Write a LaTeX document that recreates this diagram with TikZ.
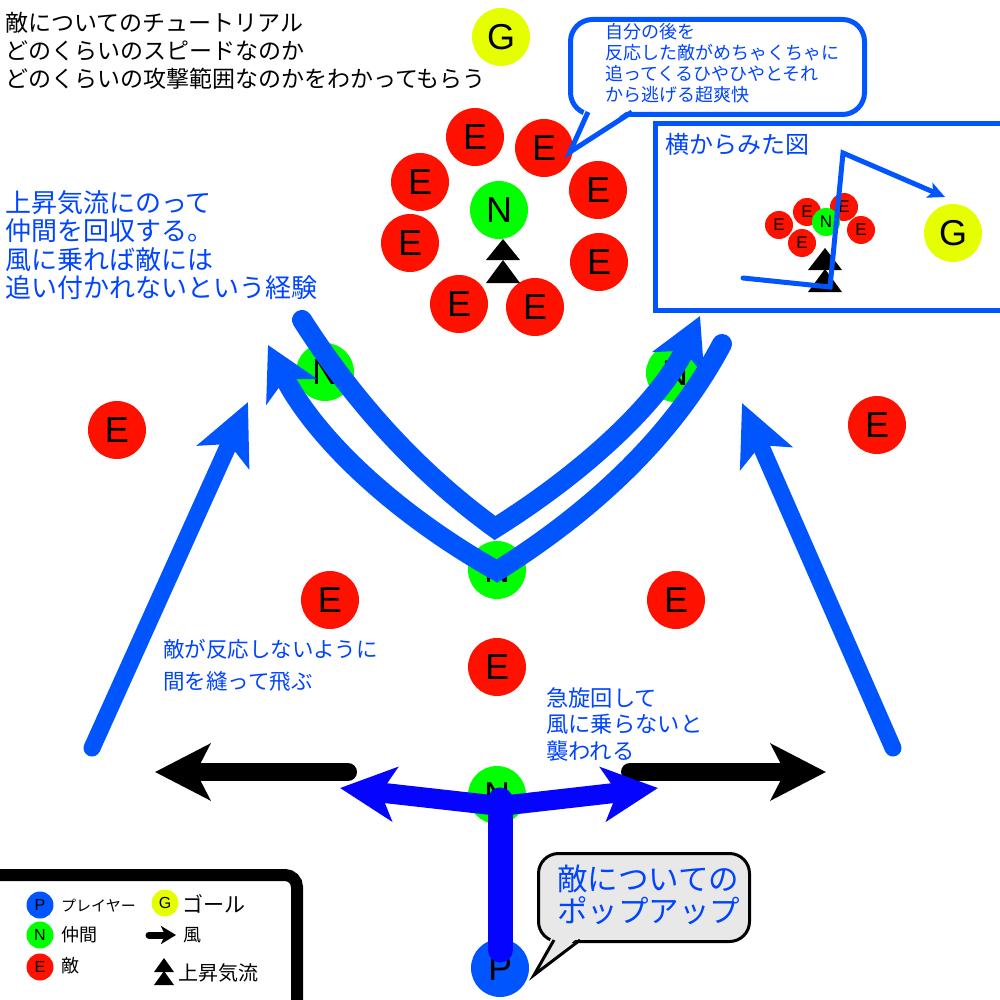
\documentclass[tikz,border=0pt]{standalone}
\usepackage{fontspec}
\usetikzlibrary{arrows.meta}
\newfontfamily\jpf{Noto Sans CJK JP}
\newfontfamily\latf{Liberation Sans}
\definecolor{ered}{RGB}{255,17,0}
\definecolor{ngreen}{RGB}{0,255,0}
\definecolor{gyellow}{RGB}{230,255,0}
\definecolor{pblue}{RGB}{0,85,255}
\definecolor{tblue}{RGB}{0,68,255}
\definecolor{yblue}{RGB}{5,5,255}
\definecolor{bubgray}{RGB}{232,232,232}
\begin{document}
\begin{tikzpicture}[x=1pt,y=-1pt,
  disc/.style={circle,inner sep=0pt,minimum size=58pt,font=\latf\fontsize{36}{36}\selectfont},
  enemy/.style={disc,fill=ered},
  ally/.style={disc,fill=ngreen},
  goal/.style={disc,fill=gyellow},
  player/.style={disc,fill=pblue},
  minidisc/.style={minimum size=28pt,font=\latf\fontsize{17}{17}\selectfont},
  legdisc/.style={minimum size=27pt,font=\latf\fontsize{16}{16}\selectfont},
  jtext/.style={inner sep=0pt,anchor=north west,align=left},
  bigarrow/.style={pblue,line width=20pt,line cap=round,line join=miter,
     -{Stealth[length=52pt,width=56pt,inset=14pt]}},
  diagarrow/.style={pblue,line width=17pt,line cap=round,
     -{Stealth[length=60pt,width=56pt,inset=14pt]}},
  windarrow/.style={black,line width=18pt,line cap=round,
     -{Stealth[length=55pt,width=56pt,inset=14pt]}},
  yarrow/.style={yblue,line width=20pt,line join=miter,
     {Stealth[length=55pt,width=54pt,inset=14pt]}-{Stealth[length=55pt,width=54pt,inset=14pt]}},
  updraft/.style={fill=black}
]
\useasboundingbox (0,0) rectangle (1000,1000);

% ---------- top-left text ----------
\node[jtext,font=\jpf\fontsize{23}{28}\selectfont] (title) at (5,12)
  {敵についてのチュートリアル\\どのくらいのスピードなのか\\どのくらいの攻撃範囲なのかをわかってもらう};

% ---------- goal ----------
\node[goal] (G) at (501,37) {G};

% ---------- top cluster ----------
\node[enemy] (e1) at (475,137) {E};
\node[enemy] (e2) at (544,148) {E};
\node[enemy] (e3) at (420,182) {E};
\node[enemy] (e4) at (598,190) {E};
\node[enemy] (e5) at (410,243) {E};
\node[enemy] (e6) at (599,262) {E};
\node[enemy] (e7) at (459,304) {E};
\node[enemy] (e8) at (535,307) {E};
\node[ally] (n0) at (499,210) {N};
\fill[updraft] (486,260) -- (503,239) -- (520,260) -- cycle;
\fill[updraft] (486,283) -- (503,260) -- (520,283) -- cycle;

% ---------- top speech bubble ----------
\node[draw=pblue,line width=5pt,fill=white,rounded corners=22pt,
      minimum width=294pt,minimum height=95pt,anchor=north west,inner sep=0pt] (bub1) at (568,17) {};
\coordinate (tail1) at (570,152);
\fill[white] (586,106) -- (634,106) -- (tail1) -- cycle;
\draw[pblue,line width=5pt,line join=miter] (588,112) -- (tail1) -- (632,112);
\node[jtext,text=tblue,font=\jpf\fontsize{18}{21}\selectfont] (bub1txt) at (605,23)
  {自分の後を\\反応した敵がめちゃくちゃに\\追ってくるひやひやとそれ\\から逃げる超爽快};

% ---------- side view ----------
\draw[pblue,line width=5pt] (655,124) rectangle (1012,310);
\node[jtext,text=tblue,font=\jpf\fontsize{24}{24}\selectfont] (sidetitle) at (665,133) {横からみた図};
\node[enemy,minidisc] (s1) at (779,225) {E};
\node[enemy,minidisc] (s2) at (807,212) {E};
\node[enemy,minidisc] (s3) at (844,207) {E};
\node[enemy,minidisc] (s4) at (861,230) {E};
\node[enemy,minidisc] (s5) at (802,243) {E};
\node[ally,minidisc] (sn) at (826,222) {N};
\node[goal] (sg) at (953,233) {G};
\fill[updraft] (808,270) -- (825,248) -- (842,270) -- cycle;
\fill[updraft] (808,292) -- (825,269) -- (842,292) -- cycle;
\coordinate (sp0) at (743,278);
\coordinate (sp1) at (830,287);
\coordinate (sp2) at (843,153);
\coordinate (sp3) at (945,197);
\draw[pblue,line width=5pt,line cap=round,line join=miter,
      -{Stealth[length=17pt,width=16pt,inset=4pt]}] (sp0) -- (sp1) -- (sp2) -- (sp3);

% ---------- left text ----------
\node[jtext,text=tblue,font=\jpf\fontsize{26}{28.5}\selectfont] (lefttxt) at (5,190)
  {上昇気流にのって\\仲間を回収する。\\風に乗れば敵には\\追い付かれないという経験};

% ---------- middle field ----------
\node[enemy] (e9) at (117,430) {E};
\node[enemy] (e10) at (877,425) {E};
\node[enemy] (e11) at (330,600) {E};
\node[enemy] (e12) at (676,600) {E};
\node[enemy] (e13) at (497,667) {E};
\node[ally] (n1) at (325,372) {N};
\node[ally] (n2) at (675,373) {N};
\node[ally] (n3) at (497,570) {N};
\node[ally] (n4) at (497,795) {N};
\node[player] (P) at (500,968) {P};

% ---------- V-shaped updraft arrows ----------
\coordinate (a0) at (302,320);
\coordinate (av) at (495,528);
\coordinate (a1) at (700,316);
\coordinate (b0) at (722,344);
\coordinate (bv) at (497,571);
\coordinate (b1) at (268,345);
\draw[bigarrow] (a0) .. controls (357,406) and (422,475) .. (av)
                     .. controls (597,464) and (665,393) .. (a1);
\draw[bigarrow] (b0) .. controls (677,429) and (602,505) .. (bv)
                     .. controls (389,510) and (313,434) .. (b1);

% ---------- diagonal arrows ----------
\coordinate (dl0) at (92,748);
\coordinate (dl1) at (248,402);
\coordinate (dr0) at (893,748);
\coordinate (dr1) at (742,403);
\draw[diagarrow] (dl0) -- (dl1);
\draw[diagarrow] (dr0) -- (dr1);

% ---------- middle texts ----------
\node[jtext,text=tblue,font=\jpf\fontsize{21.5}{32}\selectfont] (midtxt) at (163,639)
  {敵が反応しないように\\間を縫って飛ぶ};
\node[jtext,text=tblue,font=\jpf\fontsize{22.3}{26.5}\selectfont] (righttxt) at (546,687)
  {急旋回して\\風に乗らないと\\襲われる};

% ---------- wind arrows ----------
\coordinate (wl0) at (348,772);
\coordinate (wl1) at (155,772);
\coordinate (wr0) at (630,772);
\coordinate (wr1) at (826,772);
\draw[windarrow] (wl0) -- (wl1);
\draw[windarrow] (wr0) -- (wr1);

% ---------- player Y arrows ----------
\coordinate (ybase) at (500,950);
\coordinate (J) at (500,806);
\coordinate (yl) at (340,788);
\coordinate (yr) at (658,788);
\draw[yblue,line width=25pt,line cap=round] (ybase) -- ([yshift=6pt]J);
\draw[yarrow] (yl) -- (J) -- (yr);

% ---------- bottom bubble ----------
\node[draw=black,line width=3pt,fill=bubgray,rounded corners=20pt,
      minimum width=211pt,minimum height=88pt,anchor=north west,inner sep=0pt] (bub2) at (537,852) {};
\coordinate (tail2) at (534,975);
\fill[bubgray] (553,934) -- (582,934) -- (tail2) -- cycle;
\draw[black,line width=3pt,line join=miter] (554,940) -- (tail2) -- (580,940);
\node[jtext,text=tblue,font=\jpf\fontsize{30.5}{32}\selectfont] (bub2txt) at (557,865)
  {敵についての\\ポップアップ};

% ---------- legend ----------
\draw[black,line width=12pt,rounded corners=12pt] (-20,875) -- (297,875) -- (297,1020);
\node[player,legdisc] (lp) at (40,905) {P};
\node[ally,legdisc] (ln) at (40,935) {N};
\node[enemy,legdisc] (le) at (40,967) {E};
\node[goal,legdisc] (lg) at (165,903) {G};
\node[inner sep=0pt,anchor=west,font=\jpf\fontsize{15}{15}\selectfont] (lpt) at (61,906) {プレイヤー};
\node[inner sep=0pt,anchor=west,font=\jpf\fontsize{18}{18}\selectfont] (lnt) at (61,935) {仲間};
\node[inner sep=0pt,anchor=west,font=\jpf\fontsize{18}{18}\selectfont] (let) at (61,966) {敵};
\node[inner sep=0pt,anchor=west,font=\jpf\fontsize{21}{21}\selectfont] (lgt) at (182,904) {ゴール};
\coordinate (lw0) at (149,935);
\coordinate (lw1) at (176,935);
\draw[black,line width=7pt,line cap=round,-{Stealth[length=15pt,width=18pt,inset=4pt]}] (lw0) -- (lw1);
\node[inner sep=0pt,anchor=west,font=\jpf\fontsize{18}{18}\selectfont] (lwt) at (183,935) {風};
\fill[updraft] (154,972) -- (164,958) -- (174,972) -- cycle;
\fill[updraft] (154,985) -- (164,971) -- (174,985) -- cycle;
\node[inner sep=0pt,anchor=west,font=\jpf\fontsize{20}{20}\selectfont] (lut) at (178,973) {上昇気流};
\end{tikzpicture}
\end{document}
